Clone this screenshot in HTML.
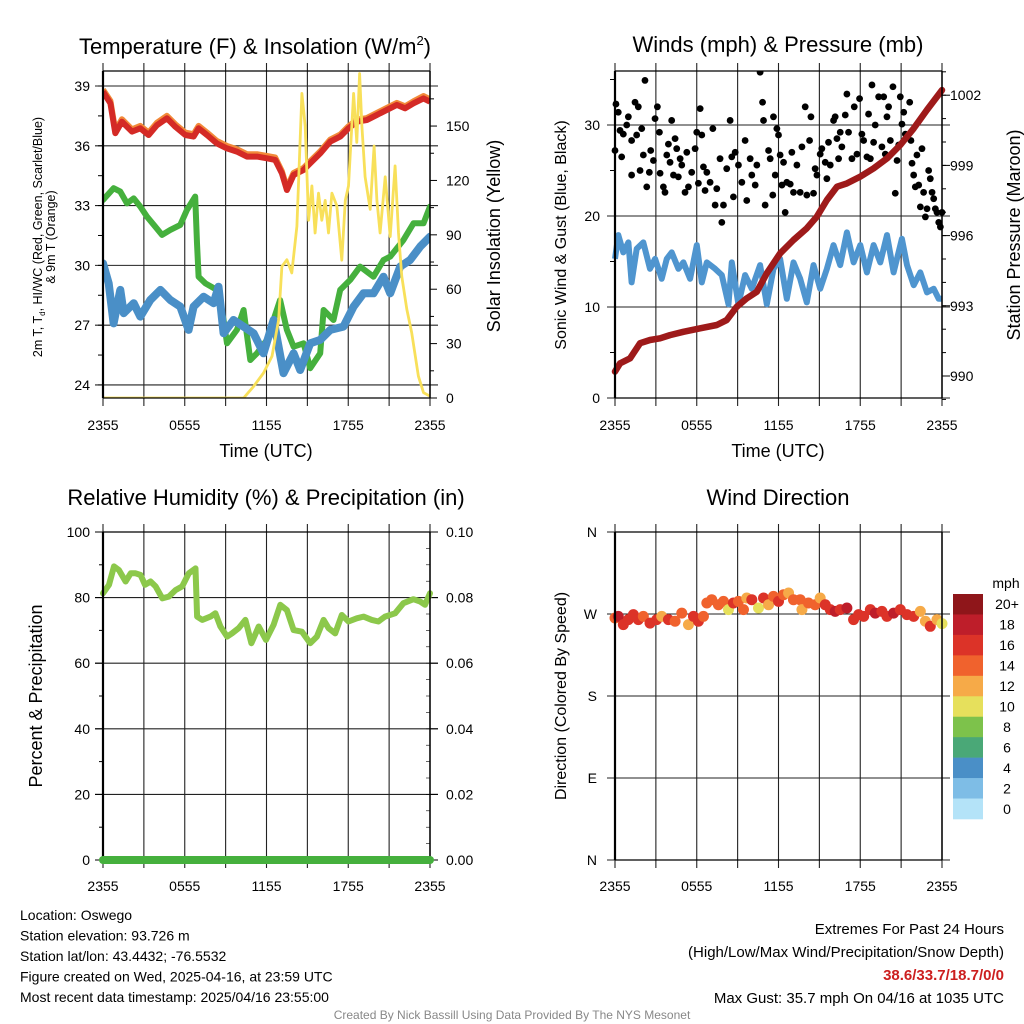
<!DOCTYPE html>
<html><head><meta charset="utf-8"><style>
body{margin:0;background:#fff;width:1024px;height:1024px;overflow:hidden}
svg{display:block;font-family:"Liberation Sans",sans-serif}
</style></head><body>
<svg id="c" width="1024" height="1024" viewBox="0 0 1024 1024"></svg>
<script>
// ---------- DATA ----------
const xTickLabels=["2355","0555","1155","1755","2355"];
const tempTickLabels=[39,36,33,30,27,24];
const solarTicks=[150,120,90,60,30,0];
const windTicks=[30,20,10,0];
const presTicks=[1002,999,996,993,990];
const rhTicks=[100,80,60,40,20,0];
const precipTicks=["0.10","0.08","0.06","0.04","0.02","0.00"];
const dirLabels=["N","W","S","E","N"];
const dirTickVals=[360,270,180,90,0];

const redT=[0,0.54,0.9,1.39,2.13,2.74,3.35,3.96,4.69,5.31,6.04,6.65,7.02,7.63,8.36,9.1,9.83,10.56,11.3,12.03,12.64,13.13,13.5,13.99,14.72,15.21,15.94,16.68,17.41,18.02,18.63,19.36,20.1,20.83,21.56,22.17,22.79,23.52,24];
const redV=[38.72,38.13,36.63,37.21,36.71,36.88,36.54,37.04,37.38,36.96,36.54,36.46,36.88,36.54,36.12,35.87,35.71,35.46,35.46,35.37,35.29,34.62,33.78,34.54,34.79,35.12,35.62,36.21,36.46,36.88,37.21,37.29,37.55,37.80,38.05,37.88,38.13,38.38,38.21];
const orangeV=[38.82,38.25,36.75,37.33,36.82,37.0,36.66,37.16,37.5,37.08,36.66,36.58,37.0,36.66,36.24,35.99,35.83,35.58,35.58,35.49,35.41,34.72,33.88,34.64,34.89,35.22,35.72,36.31,36.56,36.98,37.31,37.39,37.65,37.9,38.15,37.98,38.23,38.5,38.33];
const greenT=[0,0.78,1.27,1.76,2.25,2.74,3.23,3.84,4.33,4.94,5.67,6.16,6.77,6.9,7.02,7.51,8.36,8.85,9.1,9.83,10.32,10.81,11.3,12.03,13.0,13.5,13.99,14.72,15.21,15.94,16.19,16.92,17.41,18.14,18.87,19.85,20.59,21.08,22.05,22.79,23.52,24];
const greenV=[33.28,33.87,33.70,33.11,33.36,32.95,32.44,31.94,31.53,31.78,32.03,32.78,33.45,31.11,29.43,29.10,28.77,27.26,26.09,26.76,27.76,25.25,25.59,26.26,28.26,26.76,25.92,26.09,24.84,25.59,27.76,27.26,28.77,29.27,29.94,29.43,30.27,30.44,31.27,32.11,32.11,32.95];
const blueT=[0,0.42,0.78,1.27,1.52,2.25,2.74,3.47,4.21,4.94,5.67,6.28,6.65,7.38,8.12,8.48,8.85,9.58,10.32,11.05,11.78,12.52,13.25,13.99,14.47,15.21,15.94,16.68,17.65,18.39,19.12,19.85,20.59,21.08,21.81,22.54,23.28,24];
const blueV=[30.10,29.10,27.09,28.77,27.6,28.1,27.43,28.26,28.77,28.26,27.93,26.76,27.93,28.43,28.1,28.93,26.59,27.26,26.93,26.59,25.59,27.26,24.59,25.59,24.75,26.09,26.26,26.76,26.93,27.93,28.6,28.6,29.43,28.6,29.94,30.27,30.94,31.44];
const solarT=[0,10.32,11.05,11.78,12.4,12.89,13.13,13.5,13.86,14.23,14.6,14.84,15.09,15.33,15.57,15.82,16.06,16.31,16.55,16.8,17.16,17.53,17.78,18.02,18.39,18.63,18.83,19.0,19.24,19.61,19.9,20.1,20.34,20.71,21.08,21.44,21.69,21.93,22.3,22.66,23.15,23.52,24];
const solarV=[0,0,6.4,13.8,23,43,72.6,76.3,69,94.7,168,150,98,117,91,113,98,109,91,113,106,76,109,117,168,141,179,150,122,104,139,109,91,122,89,128,91,67,49,36,12,3,1];

const presT=[0,0.37,1.1,1.84,2.57,3.31,4.04,5.02,6.25,7.47,8.2,8.94,9.67,10.41,11.14,12.12,13.1,14.08,14.82,15.55,16.29,17.02,18.0,18.98,19.96,20.94,21.92,22.9,24];
const presV=[990.19,990.54,990.75,991.4,991.54,991.61,991.75,991.89,992.04,992.18,992.39,992.96,993.32,993.6,994.39,995.24,995.81,996.31,996.81,997.52,998.09,998.23,998.52,998.87,999.3,999.87,1000.58,1001.37,1002.22];
const windT=[0,.24,.61,.98,1.22,1.59,2.08,2.57,2.94,3.43,3.8,4.16,4.65,5.02,5.51,6.0,6.37,6.74,7.35,7.84,8.33,8.57,9.06,9.55,10.04,10.65,11.14,11.63,12.12,12.61,13.1,13.59,14.08,14.57,15.06,15.55,16.04,16.53,17.02,17.51,18.0,18.49,18.98,19.47,19.96,20.45,21.06,21.43,21.92,22.41,22.9,23.39,23.76,24];
const windV=[15.3,17.9,16.0,17.1,12.7,16.4,17.1,14.2,15.3,13.1,15.3,16.0,14.2,14.9,13.1,16.8,12.7,14.9,14.2,13.5,10.3,14.9,10.3,13.5,12.0,14.6,10.3,14.2,15.3,10.9,14.9,13.1,10.5,14.6,12.0,14.2,16.8,14.6,18.2,14.9,16.8,13.8,16.8,14.9,17.9,13.8,17.5,14.6,12.4,13.8,11.6,12.0,10.9,10.9];
const gustT=[0,0.07,0.24,0.37,0.49,0.61,0.86,0.98,1.22,1.22,1.47,1.59,1.71,1.84,1.96,2.08,2.2,2.33,2.52,2.62,2.82,2.94,3.11,3.26,3.31,3.55,3.67,3.8,3.92,4.04,4.16,4.29,4.41,4.53,4.65,4.78,4.9,5.14,5.27,5.39,5.63,5.88,6.0,6.12,6.25,6.37,6.49,6.61,6.74,6.98,7.18,7.35,7.47,7.71,7.84,7.96,8.2,8.45,8.57,8.69,8.82,9.06,9.31,9.55,9.67,9.92,10.04,10.29,10.41,10.65,10.83,10.9,11.02,11.27,11.39,11.58,11.63,11.76,11.88,12.0,12.12,12.25,12.37,12.49,12.61,12.86,12.98,13.1,13.35,13.59,13.72,13.96,14.08,14.28,14.38,14.57,14.69,14.82,15.06,15.18,15.43,15.55,15.67,15.8,16.04,16.16,16.29,16.41,16.53,16.65,16.9,17.02,17.14,17.39,17.56,17.76,17.95,18.12,18.25,18.49,18.61,18.74,18.86,18.98,19.1,19.35,19.59,19.72,19.84,19.96,20.08,20.21,20.4,20.57,20.7,20.82,20.94,21.06,21.19,21.31,21.43,21.63,21.72,21.8,21.92,22.04,22.16,22.29,22.41,22.53,22.65,22.78,22.9,23.02,23.14,23.27,23.39,23.51,23.63,23.76,23.88,24.0];
const gustV=[27.2,32.3,31.4,29.4,26.5,29.0,30.0,30.9,28.3,24.5,32.5,28.9,32.0,25.0,29.6,26.7,34.9,23.2,24.8,27.2,26.1,30.7,32.0,29.2,24.7,23.2,22.6,26.7,27.9,25.9,30.5,24.5,28.5,27.4,24.3,26.3,25.6,22.6,27.0,23.2,24.8,27.4,29.2,23.6,31.8,28.9,25.4,22.8,24.8,23.7,29.6,21.2,23.0,26.3,19.3,21.2,25.2,30.5,26.5,22.1,27.0,25.6,23.7,28.3,21.7,26.3,24.5,23.4,25.6,35.8,32.5,30.5,21.2,27.2,26.3,22.3,30.9,24.5,29.6,28.9,26.7,23.4,25.9,20.4,23.7,23.5,27.0,22.6,25.6,22.6,27.6,32.0,22.3,28.3,30.9,22.5,25.2,24.5,26.8,27.4,25.9,24.1,28.1,25.6,30.5,30.9,28.5,26.3,29.2,27.6,31.1,33.4,29.2,26.3,32.0,26.8,32.9,29.0,28.3,26.5,31.2,26.3,34.4,28.1,30.0,33.1,27.6,33.1,26.8,30.9,32.0,28.3,34.2,22.5,26.1,27.8,33.1,30.1,31.4,29.0,28.7,32.5,28.3,25.8,24.5,23.2,26.7,23.4,21.0,27.4,22.6,19.9,20.8,25.0,24.1,22.6,21.9,20.8,20.4,19.3,18.8,20.4];

const rhT=[0,.44,.81,1.17,1.66,2.03,2.39,2.76,3.08,3.49,3.86,4.35,4.83,5.32,5.81,6.3,6.79,6.91,7.28,7.89,8.25,8.62,9.11,9.47,9.96,10.45,10.89,11.43,11.96,12.52,13.01,13.5,13.99,14.6,15.21,15.7,16.19,16.55,17.04,17.53,18.02,18.63,19.12,19.73,20.21,20.7,21.44,22.05,22.78,23.27,23.63,24];
const rhV=[81.3,83.9,89.5,88.4,84.9,87.4,87.4,86.9,83.9,84.9,83.4,79.8,80.3,82.3,83.4,87.4,88.9,74.2,73.2,74.2,75.2,71.2,68.1,69.1,70.7,73.2,66.1,71.2,67.1,71.7,77.8,76.2,70.1,69.6,66.1,68.1,73.2,70.7,69.1,74.7,72.7,73.7,74.2,73.2,72.7,74.2,75.2,78.3,79.5,78.8,77.8,81.3];
const precipT=[0,24];
const precipV=[0,0];

const dirT=[0,.24,.61,.98,1.35,1.71,2.08,2.57,3.06,3.43,3.92,4.41,4.9,5.39,5.76,6.12,6.49,6.74,7.1,7.59,7.96,8.33,8.69,9.06,9.43,9.67,10.04,10.53,10.9,11.27,11.63,12.0,12.37,12.74,13.1,13.59,13.72,14.2,14.69,15.06,15.43,15.8,16.16,16.53,17.02,17.51,17.88,18.25,18.74,19.1,19.59,19.96,20.45,20.94,21.43,21.92,22.41,22.78,23.14,23.63,24.0];
const dirV=[265.6,267.4,258.3,263.8,269.3,263.8,267.4,260,263.8,267.4,263.8,262,271,258.3,267.4,262,267.4,282.1,285.7,280.2,283.9,274.8,282.1,283.9,274.8,287.6,285.7,276.6,287.6,280.2,289.4,283.9,291.2,293,285.7,285.7,274.8,282.1,280.2,287.6,280.2,274.8,272.9,274.8,276.6,263.8,269.3,267.4,274.8,271,272.9,267.4,271,274.8,269.3,267.4,272.9,262,256.5,263.8,259.4];
const dirSpd=[14,18,16,16,16,16,14,16,16,12,16,14,14,12,16,16,14,14,14,14,14,10,16,14,14,12,16,10,16,12,14,16,14,12,14,14,12,14,14,12,16,16,18,16,18,16,16,16,16,18,16,16,18,16,16,16,12,12,16,12,10];
const cbLabels=["20+","18","16","14","12","10","8","6","4","2","0"];
const cbColors=["#8f161a","#be1e2a","#dc3328","#f0622d","#f6aa48","#e6e05c","#7dc24b","#4aa877","#4a8fc7","#7ebde6","#b4e3f8"];

// ---------- HELPERS ----------
const NS="http://www.w3.org/2000/svg";
const svg=document.getElementById('c');
function mk(tag,attrs,parent){const e=document.createElementNS(NS,tag);for(const k in attrs)e.setAttribute(k,attrs[k]);(parent||svg).appendChild(e);return e;}
function txt(s,x,y,size,anchor,extra){const t=mk('text',Object.assign({x:x,y:y,'font-size':size,'text-anchor':anchor||'middle',fill:'#000'},extra||{}));t.textContent=s;return t;}
function xs(x0,x1){return h=>x0+h/24*(x1-x0);}
function linePath(T,V,fx,fy){return T.map((t,i)=>(i?'L':'M')+fx(t).toFixed(1)+','+fy(V[i]).toFixed(1)).join('');}
function vgrid(g,x0,x1,yt,yb){for(let i=0;i<=8;i++){const x=x0+i*(x1-x0)/8;const l=mk('line',{x1:x,x2:x,y1:yt-8,y2:yb+8,stroke:'#222','stroke-width':1.1},g);}}
function hline(g,y,x0,x1){const l=mk('line',{x1:x0-8,x2:x1+8,y1:y,y2:y,stroke:'#222','stroke-width':1.1},g);}
function frame(g,x0,x1,yt,yb){mk('line',{x1:x0,x2:x0,y1:yt,y2:yb,stroke:'#000','stroke-width':2.2},g);mk('line',{x1:x1,x2:x1,y1:yt,y2:yb,stroke:'#000','stroke-width':1.5},g);mk('line',{x1:x0,x2:x1,y1:yt,y2:yt,stroke:'#000','stroke-width':1.3},g);mk('line',{x1:x0,x2:x1,y1:yb,y2:yb,stroke:'#000','stroke-width':1.3},g);}
function xlabels(g,x0,x1,y){xTickLabels.forEach((s,i)=>{const t=txt(s,x0+i*(x1-x0)/4,y,14,'middle',{});});}

// ---------- PANEL 1 ----------
(function(){
const g=mk('g',{});
const x0=103,x1=430,yt=71,yb=398;const fx=xs(x0,x1);
const fy=v=>86+(39-v)*19.93;const fs=v=>398-v*1.813;
vgrid(g,x0,x1,yt,yb);
tempTickLabels.forEach(v=>{hline(g,fy(v),x0,x1);const t=txt(String(v),90,fy(v)+5,14,'end');});
for(let v=24;v<=39.5;v+=1.5)mk('line',{x1:x0-5,x2:x0,y1:fy(v),y2:fy(v),stroke:'#000'},g);
solarTicks.forEach(v=>{mk('line',{x1:x1,x2:x1+7,y1:fs(v),y2:fs(v),stroke:'#000'},g);const t=txt(String(v),446,fs(v)+5,14,'start');});
for(let v=15;v<=165;v+=30)mk('line',{x1:x1,x2:x1+4,y1:fs(v),y2:fs(v),stroke:'#000'},g);
const defs=mk('defs',{},g);const cp=mk('clipPath',{id:'cp1'},defs);mk('rect',{x:x0,y:yt,width:x1-x0,height:yb-yt},cp);
const d=mk('g',{'clip-path':'url(#cp1)'},g);
let p;
p=mk('path',{d:linePath(greenT,greenV,fx,fy),fill:'none',stroke:'#45b03d','stroke-width':6,'stroke-linejoin':'round','stroke-linecap':'round'},d);

p=mk('path',{d:linePath(blueT,blueV,fx,fy),fill:'none',stroke:'#4a8fc7','stroke-width':8,'stroke-linejoin':'round','stroke-linecap':'round'},d);

p=mk('path',{d:linePath(redT,orangeV,fx,fy),fill:'none',stroke:'#f28a3a','stroke-width':6,'stroke-linejoin':'round'},d);

p=mk('path',{d:linePath(redT,redV,fx,fy),fill:'none',stroke:'#d42a26','stroke-width':6,'stroke-linejoin':'round'},d);

p=mk('path',{d:linePath(solarT,solarV,fx,fs),fill:'none',stroke:'#f8e05a','stroke-width':2.8,'stroke-linejoin':'round'},d);

frame(g,x0,x1,yt,yb);xlabels(g,x0,x1,430);
let t=txt('Temperature (F) & Insolation (W/m',255,54,22);
const ts=mk('tspan',{'font-size':13,dy:-9});ts.textContent='2';t.appendChild(ts);const ts2=mk('tspan',{dy:9});ts2.textContent=')';t.appendChild(ts2);
t=txt('Time (UTC)',266,457,18);
t=txt('Solar Insolation (Yellow)',0,0,18,'middle',{transform:'translate(500,236) rotate(-90)'});
t=txt('2m T, T',0,0,12.5,'middle',{transform:'translate(42,237) rotate(-90)'});
t.textContent='';const a=mk('tspan',{});a.textContent='2m T, T';t.appendChild(a);const b=mk('tspan',{'font-size':8,dy:3});b.textContent='d';t.appendChild(b);const c=mk('tspan',{dy:-3});c.textContent=', HI/WC (Red, Green, Scarlet/Blue)';t.appendChild(c);
t=txt('& 9m T (Orange)',0,0,12.5,'middle',{transform:'translate(55,237) rotate(-90)'});
})();

// ---------- PANEL 2 ----------
(function(){
const g=mk('g',{});
const x0=615,x1=942,yt=71,yb=398;const fx=xs(x0,x1);
const fw=v=>398-v*9.1;const fp=v=>376-(v-990)*23.4;
vgrid(g,x0,x1,yt,yb);
windTicks.forEach(v=>{hline(g,fw(v),x0,x1);const t=txt(String(v),600,fw(v)+5,14,'end');});
for(let v=5;v<=35;v+=10)mk('line',{x1:x0-5,x2:x0,y1:fw(v),y2:fw(v),stroke:'#000'},g);
presTicks.forEach(v=>{mk('line',{x1:x1,x2:x1+8,y1:fp(v),y2:fp(v),stroke:'#000'},g);const t=txt(String(v),950,fp(v)+5,14,'start');});
for(let v=989;v<=1003;v++)mk('line',{x1:x1,x2:x1+4,y1:fp(v),y2:fp(v),stroke:'#000'},g);
const defs=mk('defs',{},g);const cp=mk('clipPath',{id:'cp2'},defs);mk('rect',{x:x0-4,y:yt,width:x1-x0+8,height:yb-yt},cp);
const d=mk('g',{'clip-path':'url(#cp2)'},g);
let p=mk('path',{d:linePath(windT,windV,fx,fw),fill:'none',stroke:'#4f95cf','stroke-width':6,'stroke-linejoin':'round'},d);

gustT.forEach((t,i)=>{const c=mk('circle',{cx:fx(t),cy:fw(gustV[i]),r:3.4,fill:'#000'},d);});
p=mk('path',{d:linePath(presT,presV,fx,fp),fill:'none',stroke:'#9e1a1a','stroke-width':6.5,'stroke-linejoin':'round','stroke-linecap':'round'},d);

frame(g,x0,x1,yt,yb);xlabels(g,x0,x1,430);
let t=txt('Winds (mph) & Pressure (mb)',778,52,22);
t=txt('Time (UTC)',778,457,18);
t=txt('Sonic Wind & Gust (Blue, Black)',0,0,16,'middle',{transform:'translate(566,235) rotate(-90)'});
t=txt('Station Pressure (Maroon)',0,0,18,'middle',{transform:'translate(1020,235) rotate(-90)'});
})();

// ---------- PANEL 3 ----------
(function(){
const g=mk('g',{});
const x0=103,x1=430,yt=532,yb=860;const fx=xs(x0,x1);
const fr=v=>860-v*3.28;const fq=v=>860-v*3280;
vgrid(g,x0,x1,yt,yb);
rhTicks.forEach(v=>{if(v>0&&v<100)hline(g,fr(v),x0,x1);mk('line',{x1:x0-8,x2:x0,y1:fr(v),y2:fr(v),stroke:'#000'},g);const t=txt(String(v),90,fr(v)+5,14,'end');});
for(let v=10;v<100;v+=20)mk('line',{x1:x0-4,x2:x0,y1:fr(v),y2:fr(v),stroke:'#000'},g);
precipTicks.forEach(s=>{const v=parseFloat(s);mk('line',{x1:x1,x2:x1+8,y1:fq(v),y2:fq(v),stroke:'#000'},g);const t=txt(s,446,fq(v)+5,14,'start');});
for(let v=0.005;v<0.1;v+=0.005)mk('line',{x1:x1-4,x2:x1,y1:fq(v),y2:fq(v),stroke:'#000','stroke-width':0.6},g);
let p=mk('path',{d:linePath(rhT,rhV,fx,fr),fill:'none',stroke:'#8cc84b','stroke-width':6,'stroke-linejoin':'round','stroke-linecap':'round'},g);

frame(g,x0,x1,yt,yb);
p=mk('path',{d:linePath(precipT,precipV,fx,fq),fill:'none',stroke:'#45b03d','stroke-width':8,'stroke-linecap':'round'},g);

xlabels(g,x0,x1,891);
let t=txt('Relative Humidity (%) & Precipitation (in)',266,505,22);
t=txt('Percent & Precipitation',0,0,18,'middle',{transform:'translate(42,696) rotate(-90)'});
})();

// ---------- PANEL 4 ----------
(function(){
const g=mk('g',{});
const x0=615,x1=942,yt=532,yb=860;const fx=xs(x0,x1);
const fd=v=>860-v*0.9111;
vgrid(g,x0,x1,yt,yb);
dirTickVals.forEach((v,i)=>{hline(g,fd(v),x0,x1);const t=txt(dirLabels[i],597,fd(v)+5,14,'end');});
const col=s=>cbColors[10-Math.min(10,Math.floor(s/2))];
dirT.forEach((t,i)=>{const c=mk('circle',{cx:fx(t),cy:fd(dirV[i]),r:5.5,fill:col(dirSpd[i])},g);});
frame(g,x0,x1,yt,yb);xlabels(g,x0,x1,891);
let t=txt('Wind Direction',778,505,22);
t=txt('Direction (Colored By Speed)',0,0,16,'middle',{transform:'translate(566,696) rotate(-90)'});
const cb=mk('g',{},g);
const bh=(819-594)/11;
cbColors.forEach((c,i)=>{mk('rect',{x:953,y:594+i*bh,width:30,height:bh+0.3,fill:c},cb);const l=txt(cbLabels[i],1007,594+i*bh+bh/2+5,14,'middle');});
t=txt('mph',1006,588,14);
})();

// ---------- FOOTER ----------
const info=["Location: Oswego","Station elevation: 93.726 m","Station lat/lon: 43.4432; -76.5532","Figure created on Wed, 2025-04-16, at 23:59 UTC","Most recent data timestamp: 2025/04/16 23:55:00"];
info.forEach((s,i)=>{const t=txt(s,20,920+i*20.5,14,'start');});
let t=txt('Extremes For Past 24 Hours',1004,934,15,'end');
t=txt('(High/Low/Max Wind/Precipitation/Snow Depth)',1004,957,15,'end');
t=txt('38.6/33.7/18.7/0/0',1004,980,15,'end',{fill:'#cc1f1f','font-weight':'bold'});
t=txt('Max Gust: 35.7 mph On 04/16 at 1035 UTC',1004,1003,15,'end');
t=txt('Created By Nick Bassill Using Data Provided By The NYS Mesonet',512,1019,12,'middle',{fill:'#888'});
</script>
</body></html>
